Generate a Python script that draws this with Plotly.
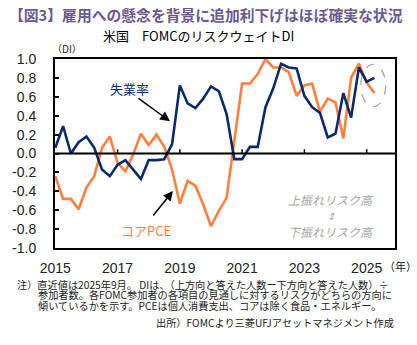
import plotly.graph_objects as go

# quarterly FOMC SEP observations (plotted at quarter positions)
quarter_index = list(range(42))
unemployment = [0.06, 0.29, 0.00, 0.12, 0.18, 0.06, -0.17, -0.24, -0.12, -0.07,
                -0.17, -0.27, -0.07, -0.07, -0.06, 0.10, 0.72, 0.53, 0.48, 0.58,
                0.71, 0.66, 0.42, -0.06, -0.06, 0.07, 0.07, 0.49, 0.69, 0.95,
                0.91, 0.90, 0.61, 0.49, 0.43, 0.17, 0.21, 0.64, 0.38, 0.91,
                0.76, 0.80]
core_pce = [-0.24, -0.48, -0.48, -0.59, -0.36, -0.24, 0.06, 0.18, -0.10, -0.19,
            -0.01, 0.21, 0.09, 0.20, 0.07, -0.17, -0.53, -0.29, -0.34, -0.54,
            -0.77, -0.61, -0.47, 0.13, 0.74, 0.74, 0.84, 1.00, 0.91, 0.91,
            0.86, 0.61, 0.72, 0.74, 0.44, 0.58, 0.54, 0.16, 0.80, 0.95,
            0.75, 0.64]
year_ticks = [2015, 2017, 2019, 2021, 2023, 2025]
y_ticks = [1.0, 0.8, 0.6, 0.4, 0.2, 0.0, -0.2, -0.4, -0.6, -0.8, -1.0]

x_vals = [2015 + q / 4 for q in quarter_index]

NAVY = "#0B2A6B"
ORANGE = "#FF7F3F"
JP = "Noto Sans CJK JP"

fig = go.Figure()
fig.add_trace(go.Scatter(x=x_vals, y=core_pce, mode="lines",
                         line=dict(color=ORANGE, width=2.6), name="コアPCE"))
fig.add_trace(go.Scatter(x=x_vals, y=unemployment, mode="lines",
                         line=dict(color=NAVY, width=2.6), name="失業率"))

L, R, T, B = 52, 22, 58.5, 96.7
W, H = 417, 345
pw, ph = W - L - R, H - T - B


def px(xp):
    return (xp - L) / pw


def py(yp):
    return (H - B - yp) / ph


fig.update_layout(
    width=W, height=H,
    margin=dict(l=L, r=R, t=T, b=B, pad=0),
    paper_bgcolor="white", plot_bgcolor="white",
    showlegend=False,
    font=dict(family="Liberation Sans, Arial", color="#222"),
)
fig.update_xaxes(range=[2014.99, 2025.91], showgrid=False, zeroline=False,
                 tickvals=year_ticks, ticktext=[str(y) for y in year_ticks],
                 ticks="", showline=True, linecolor="black", linewidth=2,
                 mirror=True, tickfont=dict(size=14, color="#222"),
                 ticklabelstandoff=6)
fig.update_yaxes(range=[-1, 1], showgrid=False, zeroline=False,
                 tickvals=y_ticks, ticktext=[f"{v:.1f}" for v in y_ticks],
                 ticks="inside", ticklen=4, tickcolor="black", tickwidth=1.5,
                 showline=True, linecolor="black", linewidth=2, mirror=True,
                 tickfont=dict(size=14, color="#222"), ticklabelstandoff=14)

# zero line and its tick marks
fig.add_shape(type="line", xref="paper", yref="y", x0=0, x1=1, y0=0, y1=0,
              line=dict(color="black", width=2))
for yr in year_ticks[1:]:
    fig.add_shape(type="line", xref="x", yref="y", x0=yr, x1=yr, y0=0, y1=0.045,
                  line=dict(color="black", width=1.5))

# dashed ellipse around latest values
fig.add_shape(type="circle", xref="x", yref="y", x0=2024.81, x1=2025.61,
              y0=0.495, y1=0.944, line=dict(color="#A8A8A8", width=1.3, dash="dash"))

ann = []
ann.append(dict(text="【図3】雇用への懸念を背景に追加利下げはほぼ確実な状況",
                x=px(4), y=py(14), xanchor="left", yanchor="middle",
                font=dict(family=JP, size=14.8, color="#6B5A8E", weight="bold")))
ann.append(dict(text="米国　FOMCのリスクウェイトDI", x=px(197), y=py(35),
                xanchor="center", yanchor="middle",
                font=dict(family=JP, size=13, color="black")))
ann.append(dict(text="（DI）", x=px(47), y=py(48), xanchor="left", yanchor="middle",
                font=dict(family=JP, size=10, color="#222")))
ann.append(dict(text="（年）", x=px(382), y=py(266), xanchor="left", yanchor="middle",
                font=dict(family=JP, size=11, color="#222")))
ann.append(dict(text="失業率", x=px(127), y=py(88), xanchor="center", yanchor="middle",
                font=dict(family=JP, size=13, color=NAVY)))
ann.append(dict(text="コアPCE", x=px(144), y=py(231), xanchor="center", yanchor="middle",
                font=dict(family=JP, size=13, color=ORANGE)))
# arrows
ann.append(dict(text="", x=px(168), y=py(121), ax=-33, ay=-24, showarrow=True,
                arrowhead=2, arrowsize=1.3, arrowwidth=1.5, arrowcolor="black"))
ann.append(dict(text="", x=px(171), y=py(191), ax=-21, ay=26, showarrow=True,
                arrowhead=2, arrowsize=1.3, arrowwidth=1.5, arrowcolor="black"))
# upside / downside note
for t, yp, sz in [("上振れリスク高", 200, 12), ("⇕", 216, 10), ("下振れリスク高", 231.5, 12)]:
    ann.append(dict(text=f"<i>{t}</i>", x=px(330), y=py(yp), xanchor="center",
                    yanchor="middle", font=dict(family=JP, size=sz, color="#A6A6A6")))
# footnotes
notes = [("注）直近値は2025年9月。 DIは、（上方向と答えた人数ー下方向と答えた人数）÷", 12, 284.5),
         ("参加者数。各FOMC参加者の各項目の見通しに対するリスクがどちらの方向に", 33, 295.3),
         ("傾いているかを示す。PCEは個人消費支出、コアは除く食品・エネルギー。", 33, 306)]
for t, xp, yp in notes:
    ann.append(dict(text=t, x=px(xp), y=py(yp), xanchor="left", yanchor="middle",
                    font=dict(family=JP, size=10.2, color="#222")))
ann.append(dict(text="出所）FOMCより三菱UFJアセットマネジメント作成", x=px(396), y=py(323),
                xanchor="right", yanchor="middle",
                font=dict(family=JP, size=10.2, color="#222")))

for a in ann:
    a.setdefault("showarrow", False)
    a.setdefault("xref", "paper")
    a.setdefault("yref", "paper")
    if a.get("showarrow"):
        a["axref"] = "pixel"
        a["ayref"] = "pixel"
    fig.add_annotation(**a)

fig.write_html("out.html")
